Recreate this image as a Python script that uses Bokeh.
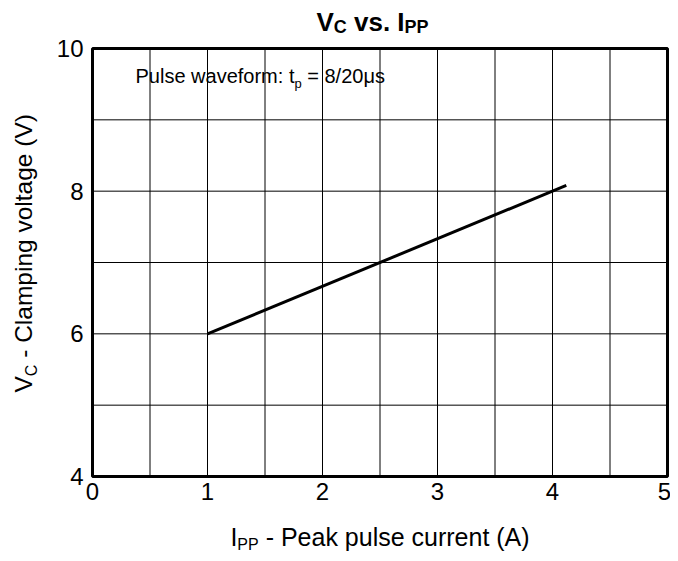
import math
from bokeh.plotting import figure
from bokeh.models import Label, Range1d
from bokeh.core.properties import value
from bokeh.embed import file_html
from bokeh.resources import INLINE

# ---- data ----
ipp = [1.0, 4.12]         # peak pulse current (A)
vc = [6.0, 8.08]          # clamping voltage (V)
x_ticks = [0, 1, 2, 3, 4, 5]
y_ticks = [4, 6, 8, 10]
x_grid = [0.5, 1, 1.5, 2, 2.5, 3, 3.5, 4, 4.5]
y_grid = [5, 6, 7, 8, 9]

FONT = "Liberation Sans"

# canvas geometry (px) and where the plot box sits in it
CW, CH = 670, 553
BL, BR, BT, BB = 92, 667, 48, 476
X0, X1 = min(x_ticks), max(x_ticks)
Y0, Y1 = min(y_ticks), max(y_ticks)
BASE_FIX = 0.37   # empirical em fraction between Label anchor and drawn baseline


def dx(px):   # canvas px -> data x
    return X0 + (px - BL) / (BR - BL) * (X1 - X0)


def dy(py):   # canvas px (from top) -> data y
    return Y0 + (BB - py) / (BB - BT) * (Y1 - Y0)


p = figure(width=CW, height=CH,
           x_range=Range1d(dx(0), dx(CW)), y_range=Range1d(dy(CH), dy(0)),
           output_backend="svg", toolbar_location=None,
           x_axis_location=None, y_axis_location=None,
           min_border=0)
p.outline_line_color = None
p.xgrid.visible = False
p.ygrid.visible = False
p.background_fill_color = "white"
p.border_fill_color = "white"

# grid
p.segment(x0=x_grid, y0=[Y0] * len(x_grid), x1=x_grid, y1=[Y1] * len(x_grid),
          line_color="black", line_width=1)
p.segment(x0=[X0] * len(y_grid), y0=y_grid, x1=[X1] * len(y_grid), y1=y_grid,
          line_color="black", line_width=1)
# plot box
p.quad(left=[X0], right=[X1], bottom=[Y0], top=[Y1], fill_color=None,
       line_color="black", line_width=3)

# curve
p.line(ipp, vc, line_color="black", line_width=3)

# tick labels (last x label nudged so it stays on the canvas)
xoffs = [0] * (len(x_ticks) - 1) + [-3]
p.text(x=x_ticks, y=[Y0] * len(x_ticks), text=[str(t) for t in x_ticks],
       text_align="center", text_baseline="top", y_offset=6, x_offset=xoffs,
       text_font=value(FONT), text_font_size="24px", text_color="black")
p.text(x=[X0] * len(y_ticks), y=y_ticks, text=[str(t) for t in y_ticks],
       text_align="right", text_baseline="middle", x_offset=-9,
       text_font=value(FONT), text_font_size="24px", text_color="black")

# ---- text helpers ----
W = {' ': .278, '-': .333, '(': .333, ')': .333, ':': .278, '=': .584, '/': .278,
     '.': .278, '0': .556, '2': .556, '8': .556, 'μ': .576,
     'A': .667, 'C': .722, 'I': .278, 'P': .667, 'V': .667,
     'a': .556, 'c': .5, 'e': .556, 'f': .278, 'g': .556, 'i': .222, 'k': .5,
     'l': .222, 'm': .833, 'n': .556, 'o': .556, 'p': .556, 'r': .333, 's': .5,
     't': .278, 'u': .556, 'v': .5, 'w': .722}
WB = dict(W, v=.556, s=.556)


def tw(s, f, bold=False):
    t = WB if bold else W
    return sum(t.get(c, .556) for c in s) * f


def hrun(pieces, x_start, base, bold=False):
    x = x_start
    for s, f, off in pieces:
        lead = len(s) - len(s.lstrip(" "))
        x += tw(" " * lead, f, bold)
        s = s.lstrip(" ")
        p.add_layout(Label(x=dx(x), y=dy(base + off - BASE_FIX * f), text=s,
                           text_font=FONT, text_font_size=f"{f}px",
                           text_color="black",
                           text_font_style="bold" if bold else "normal",
                           text_align="left", text_baseline="alphabetic"))
        x += tw(s, f, bold)


def vrun(pieces, y_start, base):
    y = y_start
    for s, f, off in pieces:
        lead = len(s) - len(s.lstrip(" "))
        y -= tw(" " * lead, f)
        s = s.lstrip(" ")
        p.add_layout(Label(x=dx(base + off - BASE_FIX * f), y=dy(y), text=s,
                           text_font=FONT, text_font_size=f"{f}px",
                           text_color="black", angle=math.pi / 2,
                           text_align="left", text_baseline="alphabetic"))
        y -= tw(s, f)


# title
title = [("V", 26, 0), ("C", 18, 2), (" vs. I", 26, 0), ("PP", 18, 2)]
tot = sum(tw(s, f, True) for s, f, _ in title)
hrun(title, 372 - tot / 2, 31, bold=True)

# x axis label
xl = [("I", 25, 0), ("PP", 16, 4), (" - Peak pulse current (A)", 25, 0)]
tot = sum(tw(s, f) for s, f, _ in xl)
hrun(xl, (BL + BR) / 2 - tot / 2, 546)

# y axis label
yl = [("V", 24.5, 0), ("C", 16, 5), (" - Clamping voltage (V)", 24.5, 0)]
vrun(yl, 392, 32)

# annotation
an = [("Pulse waveform: t", 20, 0), ("p", 13, 5), (" = 8/20μs", 20, 0)]
hrun(an, 135, 83)

open("out.html", "w").write(file_html(p, INLINE))
